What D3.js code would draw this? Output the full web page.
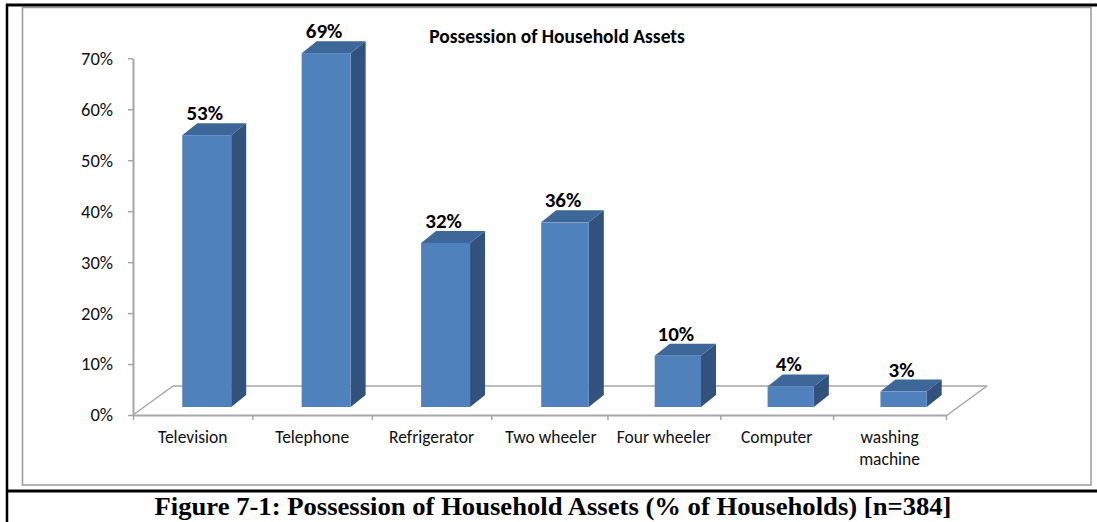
<!DOCTYPE html>
<html>
<head>
<meta charset="utf-8">
<script src="https://cdn.jsdelivr.net/npm/d3@7"></script>
<style>
  body { margin: 0; background: #fff; }
  svg { display: block; }
</style>
</head>
<body>
<div id="chart"></div>
<script>
const WIDTH = 1097;
const HEIGHT = 522;

// === DATA ===
const categories = ["Television", "Telephone", "Refrigerator", "Two wheeler", "Four wheeler", "Computer", "washing\nmachine"];
const values = [53, 69, 32, 36, 10, 4, 3];
const yTicks = [0, 10, 20, 30, 40, 50, 60, 70];

const chartTitle = "Possession of Household Assets";
const caption = "Figure 7-1: Possession of Household Assets (% of Households) [n=384]";

const SANS = "Carlito, Calibri, Lato, sans-serif";
const FRONT = "#4f81bd";
const TOP = "#3d6699";
const SIDE = "#31527c";
const GRID = "#a6a6a6";

// floor depth and bar depth (3d look)
const FLOOR_DX = 40, FLOOR_DY = -29;
const BAR_SHIFT = 14;
const BAR_DX = 15, BAR_DY = -12;

const svg = d3.select("#chart")
    .append("svg")
    .attr("width", WIDTH)
    .attr("height", HEIGHT);

// === FRAMES ===
svg.append("rect")
    .attr("x", 22.5).attr("y", 7.5)
    .attr("width", 1068.5).attr("height", 477.5)
    .attr("fill", "none")
    .attr("stroke", "#999")
    .attr("stroke-width", 1.5);

svg.append("line")
    .attr("x1", 6).attr("x2", WIDTH).attr("y1", 5).attr("y2", 5)
    .attr("stroke", "#000").attr("stroke-width", 3);
svg.append("line")
    .attr("x1", 7).attr("x2", 7).attr("y1", 4).attr("y2", HEIGHT)
    .attr("stroke", "#000").attr("stroke-width", 2.5);
svg.append("line")
    .attr("x1", 6).attr("x2", WIDTH).attr("y1", 491).attr("y2", 491)
    .attr("stroke", "#000").attr("stroke-width", 3);

// === SCALES ===
// slight perspective: left half bands a bit wider than right half
const x = d3.scaleLinear().domain([0, 3.5, 7]).range([133, 551, 946]);
const yAxis = d3.scaleLinear().domain([0, 70]).range([415, 58.3]);
const yBar = d3.scaleLinear().domain([0, 70]).range([407, 48]);

// === FLOOR ===
const x0 = x(0), x7 = x(7), y0 = yAxis(0);
const floor = svg.append("g")
    .attr("fill", "none")
    .attr("stroke", GRID)
    .attr("stroke-width", 1.5);
floor.append("line")
    .attr("x1", x0).attr("y1", y0)
    .attr("x2", x0 + FLOOR_DX).attr("y2", y0 + FLOOR_DY);
floor.append("line")
    .attr("x1", x0 + FLOOR_DX).attr("y1", y0 + FLOOR_DY)
    .attr("x2", x7 + FLOOR_DX + 1).attr("y2", y0 + FLOOR_DY);
floor.append("line")
    .attr("x1", x7).attr("y1", y0 + 1)
    .attr("x2", x7 + FLOOR_DX + 1).attr("y2", y0 + FLOOR_DY);

// === AXES ===
const gy = svg.append("g")
    .attr("transform", `translate(${x0},0)`)
    .call(d3.axisLeft(yAxis)
        .tickValues(yTicks)
        .tickFormat(d => d + "%")
        .tickSize(5)
        .tickSizeOuter(0));
gy.select(".domain").attr("stroke", GRID).attr("stroke-width", 2);
gy.selectAll(".tick line").attr("stroke", GRID).attr("stroke-width", 1.5);
gy.selectAll(".tick text")
    .attr("x", -20)
    .attr("fill", "#111")
    .style("font-family", SANS)
    .style("font-size", "18.5px");

const gx = svg.append("g")
    .attr("transform", `translate(0,${y0})`)
    .call(d3.axisBottom(x)
        .tickValues(d3.range(0, 8))
        .tickFormat("")
        .tickSize(5)
        .tickSizeOuter(0));
gx.select(".domain").attr("stroke", GRID).attr("stroke-width", 2);
gx.selectAll(".tick line").attr("stroke", GRID).attr("stroke-width", 1.5);

// category labels
svg.append("g").selectAll("text")
    .data(categories)
    .enter()
    .append("text")
    .attr("text-anchor", "middle")
    .attr("fill", "#111")
    .style("font-family", SANS)
    .style("font-size", "17.5px")
    .each(function (d, i) {
        const t = d3.select(this);
        d.split("\n").forEach((line, k) => {
            t.append("tspan")
                .attr("x", x(i + 0.5))
                .attr("y", 443 + k * 22)
                .text(line);
        });
    });

// === BARS ===
const bars = values.map((v, i) => {
    const bw = 0.41 * (x(i + 1) - x(i));
    const cx = x(i + 0.5) + BAR_SHIFT;
    return { v, left: cx - bw / 2, right: cx + bw / 2, top: yBar(v), bottom: yBar(0), cx };
});

const g = svg.append("g").selectAll("g")
    .data(bars)
    .enter()
    .append("g");

g.append("polygon")
    .attr("fill", SIDE)
    .attr("points", d => [
        [d.right, d.bottom], [d.right + BAR_DX, d.bottom + BAR_DY],
        [d.right + BAR_DX, d.top + BAR_DY], [d.right, d.top]
    ].join(" "));

g.append("polygon")
    .attr("fill", TOP)
    .attr("points", d => [
        [d.left, d.top], [d.left + BAR_DX, d.top + BAR_DY],
        [d.right + BAR_DX, d.top + BAR_DY], [d.right, d.top]
    ].join(" "));

g.append("rect")
    .attr("x", d => d.left)
    .attr("y", d => d.top)
    .attr("width", d => d.right - d.left)
    .attr("height", d => d.bottom - d.top)
    .attr("fill", FRONT);

g.append("text")
    .attr("x", d => d.cx - 2)
    .attr("y", d => d.top + BAR_DY - 3)
    .attr("text-anchor", "middle")
    .attr("fill", "#000")
    .style("font-family", SANS)
    .style("font-weight", "bold")
    .style("font-size", "21px")
    .text(d => d.v + "%");

// === TITLES ===
svg.append("text")
    .attr("x", 557)
    .attr("y", 43)
    .attr("text-anchor", "middle")
    .style("font-family", SANS)
    .style("font-weight", "bold")
    .style("font-size", "19.5px")
    .text(chartTitle);

svg.append("text")
    .attr("x", 553)
    .attr("y", 515)
    .attr("text-anchor", "middle")
    .attr("textLength", 797)
    .attr("lengthAdjust", "spacingAndGlyphs")
    .style("font-family", "'Liberation Serif', 'Times New Roman', serif")
    .style("font-weight", "bold")
    .style("font-size", "25px")
    .text(caption);
</script>
</body>
</html>
